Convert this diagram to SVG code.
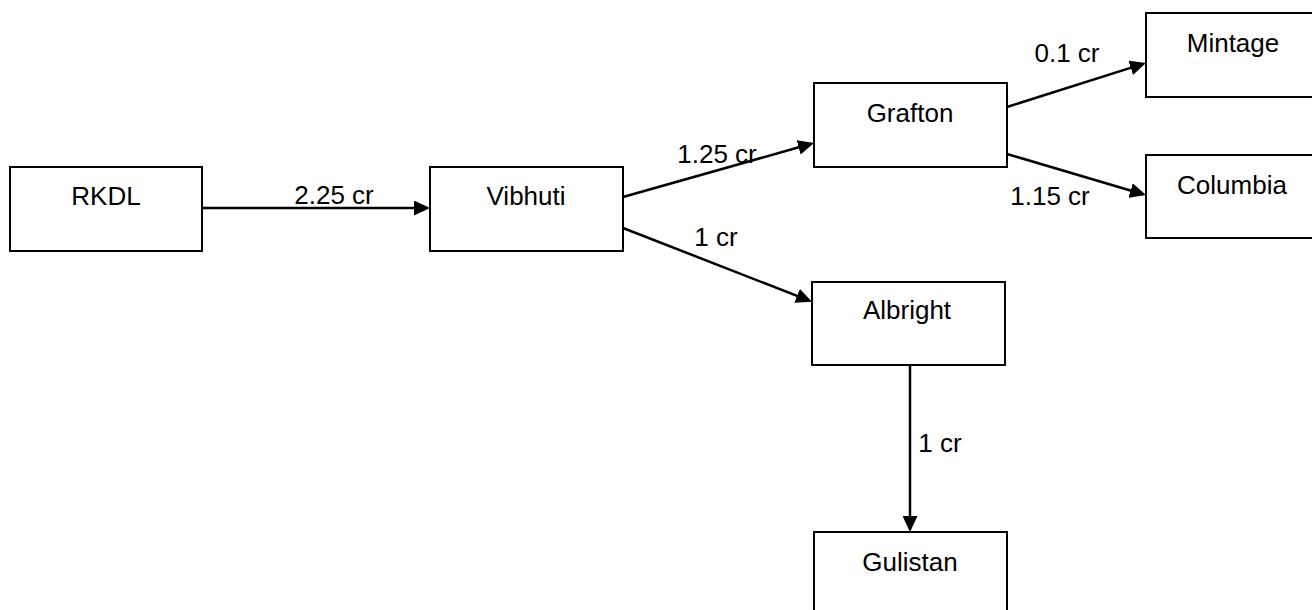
<svg xmlns="http://www.w3.org/2000/svg" width="1312" height="610" viewBox="0 0 1312 610">
<style>
.box{fill:#fff;stroke:#000;stroke-width:2}
.t{font-family:"Liberation Sans",Arial,sans-serif;font-size:26px;fill:#000;text-anchor:middle}
.c{stroke:#000;stroke-width:2.5;fill:none;marker-end:url(#ah)}
</style>
<defs>
<marker id="ah" markerUnits="userSpaceOnUse" markerWidth="16" markerHeight="15" refX="13" refY="7.5" orient="auto">
<path d="M0,0 L16,7.5 L0,15 z" fill="#000"/>
</marker>
</defs>
<rect width="1312" height="610" fill="#fff"/>
<g id="connectors">
<path class="c" d="M202,208 L427,208"/>
<path class="c" d="M623,197 L811.1,143.8"/>
<path class="c" d="M623,228 L809.2,300.6"/>
<path class="c" d="M1007,107 L1143.1,63.9"/>
<path class="c" d="M1007,154 L1143.1,194.2"/>
<path class="c" d="M910,365 L910,529"/>
</g>
<g id="labels">
<text class="t" x="334" y="204">2.25 cr</text>
<text class="t" x="717" y="163">1.25 cr</text>
<text class="t" x="716" y="246">1 cr</text>
<text class="t" x="1067" y="62">0.1 cr</text>
<text class="t" x="1050" y="205">1.15 cr</text>
<text class="t" x="940" y="452">1 cr</text>
</g>
<g id="RKDL"><rect class="box" x="10" y="167" width="192" height="84"/><text class="t" x="106" y="205">RKDL</text></g>
<g id="Vibhuti"><rect class="box" x="430" y="167" width="193" height="84"/><text class="t" x="526" y="205">Vibhuti</text></g>
<g id="Grafton"><rect class="box" x="814" y="83" width="193" height="84"/><text class="t" x="910" y="122">Grafton</text></g>
<g id="Albright"><rect class="box" x="812" y="282" width="193" height="83"/><text class="t" x="907" y="319">Albright</text></g>
<g id="Mintage"><rect class="box" x="1146" y="13" width="200" height="84"/><text class="t" x="1233" y="52">Mintage</text></g>
<g id="Columbia"><rect class="box" x="1146" y="155" width="200" height="83"/><text class="t" x="1232" y="194">Columbia</text></g>
<g id="Gulistan"><rect class="box" x="814" y="532" width="193" height="100"/><text class="t" x="910" y="571">Gulistan</text></g>
</svg>
